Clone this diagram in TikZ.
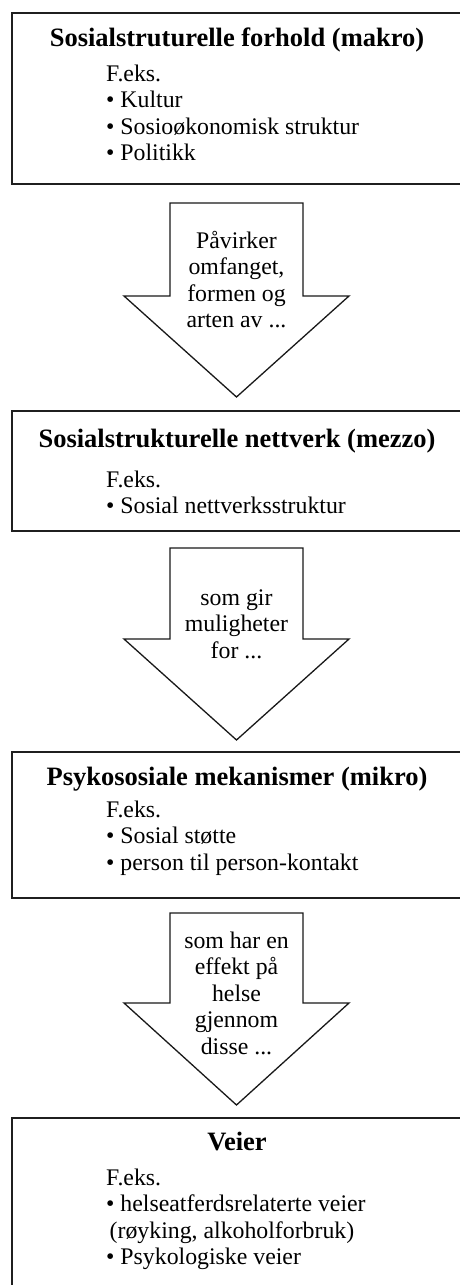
\documentclass[tikz,border=0pt]{standalone}
\usepackage{fontspec}
\setmainfont{Liberation Serif}
\newcommand{\downblock}[4]{% name, top y, shaft length, head depth
  \coordinate (#1) at (236.5,#2);
  \draw[blockarrow] (#1) ++(-66.5,0) -- ++(0,#3) -- ++(-46,0) -- ++(112.5,#4)
    -- ++(112.5,-#4) -- ++(-46,0) -- ++(0,-#3) -- cycle;}
\tikzset{
  box/.style={draw=black!88, line width=2.2pt, inner sep=0pt, anchor=north west, minimum width=460pt},
  blockarrow/.style={draw=black!90, line width=1.3pt, line join=miter, fill=white},
  title/.style={font=\fontsize{26.5}{30}\selectfont\bfseries, anchor=base, inner sep=0pt},
  body/.style={font=\fontsize{23.8}{26.5}\selectfont, align=left, anchor=north west, inner sep=0pt},
  arrowtext/.style={font=\fontsize{23.8}{26.5}\selectfont, align=center, anchor=north, inner sep=0pt},
}
\begin{document}
\begin{tikzpicture}[x=1pt,y=-1pt]
\useasboundingbox (0,0) rectangle (460,1285);
\clip (0,0) rectangle (460,1285);
\fill[white] (0,0) rectangle (460,1285);

% boxes
\node[box, minimum height=171pt] (b1) at (10.5,12) {};
\node[box, minimum height=120pt] (b2) at (10.5,410) {};
\node[box, minimum height=146pt] (b3) at (10.5,751) {};
\node[box, minimum height=190pt] (b4) at (10.5,1117) {};

% box texts
\node[title] (t1) at (237,46) {Sosialstruturelle forhold (makro)};
\node[body] (l1) at (106,62.5) {\strut F.eks.\\• Kultur\\• Sosioøkonomisk struktur\\• Politikk\strut};

\node[title] (t2) at (237,447) {Sosialstrukturelle nettverk (mezzo)};
\node[body] (l2) at (106,468.5) {\strut F.eks.\\• Sosial nettverksstruktur\strut};

\node[title] (t3) at (237,785) {Psykososiale mekanismer (mikro)};
\node[body] (l3) at (106,798.5) {\strut F.eks.\\• Sosial støtte\\• person til person-kontakt\strut};

\node[title] (t4) at (237,1150) {Veier};
\node[body] (l4) at (106,1166.5) {\strut F.eks.\\• helseatferdsrelaterte veier\\\hspace{3.5pt}(røyking, alkoholforbruk)\\• Psykologiske veier\strut};

% block arrows
\downblock{a1}{203}{93}{101}
\node[arrowtext] (x1) at (236.5,229.5) {\strut Påvirker\\omfanget,\\formen og\\arten av ...\strut};

\downblock{a2}{548}{91}{101}
\node[arrowtext] (x2) at (236.5,586.5) {\strut som gir\\muligheter\\for ...\strut};

\downblock{a3}{913}{90}{102}
\node[arrowtext] (x3) at (236.5,929.5) {\strut som har en\\effekt på\\helse\\gjennom\\disse ...\strut};
\end{tikzpicture}
\end{document}
